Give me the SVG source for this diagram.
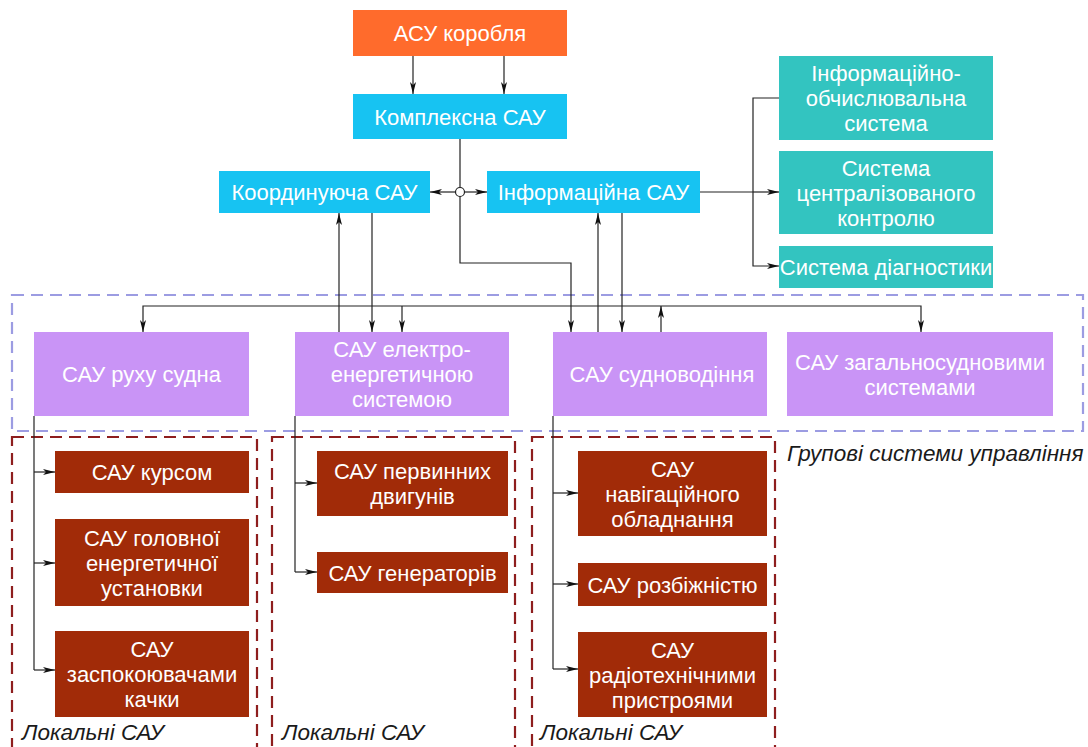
<svg xmlns="http://www.w3.org/2000/svg" width="1088" height="747" viewBox="0 0 1088 747">
<defs>
<marker id="ah" viewBox="0 0 12 6" refX="12" refY="3" markerWidth="12" markerHeight="6" markerUnits="userSpaceOnUse" orient="auto">
<path d="M0,0 L12,3 L0,6 L3,3 Z" fill="#111"/>
</marker>
<style>
.t{font-family:"Liberation Sans",Arial,sans-serif;font-size:22px;fill:#fff;text-anchor:middle}
.it{font-family:"Liberation Sans",Arial,sans-serif;font-size:22.5px;font-style:italic;fill:#1a1a1a}
.or{fill:#FF6B2C}
.cy{fill:#17C3F2}
.tl{fill:#33C4C0}
.pu{fill:#C994F6}
.br{fill:#A12B08}
.c{fill:none;stroke:#222;stroke-width:1.2}
.ca{fill:none;stroke:#222;stroke-width:1.2;marker-end:url(#ah)}
.gd{fill:none;stroke:#9C9CE2;stroke-width:2.2;stroke-dasharray:12 7}
.ld{fill:none;stroke:#8E1E1E;stroke-width:2.2;stroke-dasharray:12 7}
</style>
</defs>
<rect width="1088" height="747" fill="#fff"/>

<g id="groups">
<rect class="gd" x="12" y="295" width="1071" height="136"/>
<text class="it" x="787" y="461">Групові системи управління</text>
<rect class="ld" x="12" y="437" width="245" height="320"/>
<rect class="ld" x="272" y="437" width="243" height="320"/>
<rect class="ld" x="532" y="437" width="243" height="320"/>
<text class="it" x="22" y="740">Локальні САУ</text>
<text class="it" x="282" y="740">Локальні САУ</text>
<text class="it" x="540" y="740">Локальні САУ</text>
</g>

<g id="connectors">
<line class="ca" x1="413" y1="56" x2="413" y2="94"/>
<line class="ca" x1="504" y1="56" x2="504" y2="94"/>
<polyline class="ca" points="460,139 460,263 571,263 571,332"/>
<circle cx="460" cy="192" r="4.5" fill="#fff" stroke="#222" stroke-width="1.2"/>
<line class="ca" x1="455.5" y1="192" x2="430" y2="192"/>
<line class="ca" x1="464.5" y1="192" x2="487" y2="192"/>
<line class="ca" x1="339" y1="332" x2="339" y2="213"/>
<line class="ca" x1="372" y1="213" x2="372" y2="332"/>
<line class="ca" x1="598" y1="332" x2="598" y2="213"/>
<line class="ca" x1="622" y1="213" x2="622" y2="332"/>
<polyline class="ca" points="402,306 143,306 143,332"/>
<line class="ca" x1="402" y1="306" x2="402" y2="332"/>
<polyline class="ca" points="402,306 921,306 921,332"/>
<line class="ca" x1="661" y1="332" x2="661" y2="306"/>
<line class="c" x1="700" y1="192" x2="753" y2="192"/>
<polyline class="ca" points="779,98 753,98 753,266 779,266"/>
<line class="ca" x1="753" y1="192" x2="779" y2="192"/>
<polyline class="c" points="34,416 34,670"/>
<line class="ca" x1="34" y1="472" x2="55" y2="472"/>
<line class="ca" x1="34" y1="563" x2="55" y2="563"/>
<line class="ca" x1="34" y1="670" x2="55" y2="670"/>
<polyline class="c" points="295,416 295,572"/>
<line class="ca" x1="295" y1="483" x2="317" y2="483"/>
<line class="ca" x1="295" y1="572" x2="317" y2="572"/>
<polyline class="c" points="553,416 553,669"/>
<line class="ca" x1="553" y1="493" x2="578" y2="493"/>
<line class="ca" x1="553" y1="584" x2="578" y2="584"/>
<line class="ca" x1="553" y1="669" x2="578" y2="669"/>
</g>

<g id="asu"><rect class="or" x="353" y="10" width="214" height="46"/><text class="t" x="460" y="41">АСУ коробля</text></g>
<g id="kompleksna"><rect class="cy" x="353" y="94" width="214" height="45"/><text class="t" x="460" y="124.5">Комплексна САУ</text></g>
<g id="koordynuyucha"><rect class="cy" x="219" y="171" width="211" height="42"/><text class="t" x="324.5" y="200">Координуюча САУ</text></g>
<g id="informatsiyna"><rect class="cy" x="487" y="171" width="213" height="42"/><text class="t" x="593.5" y="200">Інформаційна САУ</text></g>

<g id="iovs"><rect class="tl" x="779" y="56" width="214" height="84"/><text class="t" x="886" y="81">Інформаційно-</text><text class="t" x="886" y="106">обчислювальна</text><text class="t" x="886" y="131">система</text></g>
<g id="skk"><rect class="tl" x="779" y="151" width="214" height="83"/><text class="t" x="886" y="175.5">Система</text><text class="t" x="886" y="200.5">централізованого</text><text class="t" x="886" y="225.5">контролю</text></g>
<g id="sd"><rect class="tl" x="779" y="246" width="214" height="42"/><text class="t" x="886" y="275">Система діагностики</text></g>

<g id="rukh"><rect class="pu" x="34" y="332" width="215" height="84"/><text class="t" x="141.5" y="382">САУ руху судна</text></g>
<g id="elektro"><rect class="pu" x="295" y="332" width="214" height="84"/><text class="t" x="402" y="357">САУ електро-</text><text class="t" x="402" y="382">енергетичною</text><text class="t" x="402" y="407">системою</text></g>
<g id="sudnovodinnya"><rect class="pu" x="553" y="332" width="214" height="84"/><text class="t" x="662" y="382">САУ судноводіння</text></g>
<g id="zahalno"><rect class="pu" x="787" y="332" width="266" height="84"/><text class="t" x="920" y="369.5">САУ загальносудновими</text><text class="t" x="920" y="394.5">системами</text></g>

<g id="kursom"><rect class="br" x="55" y="451" width="194" height="42"/><text class="t" x="152" y="480">САУ курсом</text></g>
<g id="holovnoi"><rect class="br" x="55" y="519" width="194" height="87"/><text class="t" x="152" y="545.5">САУ головної</text><text class="t" x="152" y="570.5">енергетичної</text><text class="t" x="152" y="595.5">установки</text></g>
<g id="zaspok"><rect class="br" x="55" y="631" width="194" height="86"/><text class="t" x="152" y="657">САУ</text><text class="t" x="152" y="682">заспокоювачами</text><text class="t" x="152" y="707">качки</text></g>
<g id="pervynnykh"><rect class="br" x="317" y="451" width="191" height="65"/><text class="t" x="412.5" y="479">САУ первинних</text><text class="t" x="412.5" y="504">двигунів</text></g>
<g id="heneratoriv"><rect class="br" x="317" y="552" width="191" height="41"/><text class="t" x="412.5" y="580.5">САУ генераторів</text></g>
<g id="navihats"><rect class="br" x="578" y="451" width="189" height="85"/><text class="t" x="672.5" y="476.5">САУ</text><text class="t" x="672.5" y="501.5">навігаційного</text><text class="t" x="672.5" y="526.5">обладнання</text></g>
<g id="rozbizh"><rect class="br" x="578" y="563" width="189" height="43"/><text class="t" x="672.5" y="592.5">САУ розбіжністю</text></g>
<g id="radio"><rect class="br" x="578" y="632" width="189" height="85"/><text class="t" x="672.5" y="657.5">САУ</text><text class="t" x="672.5" y="682.5">радіотехнічними</text><text class="t" x="672.5" y="707.5">пристроями</text></g>
</svg>
